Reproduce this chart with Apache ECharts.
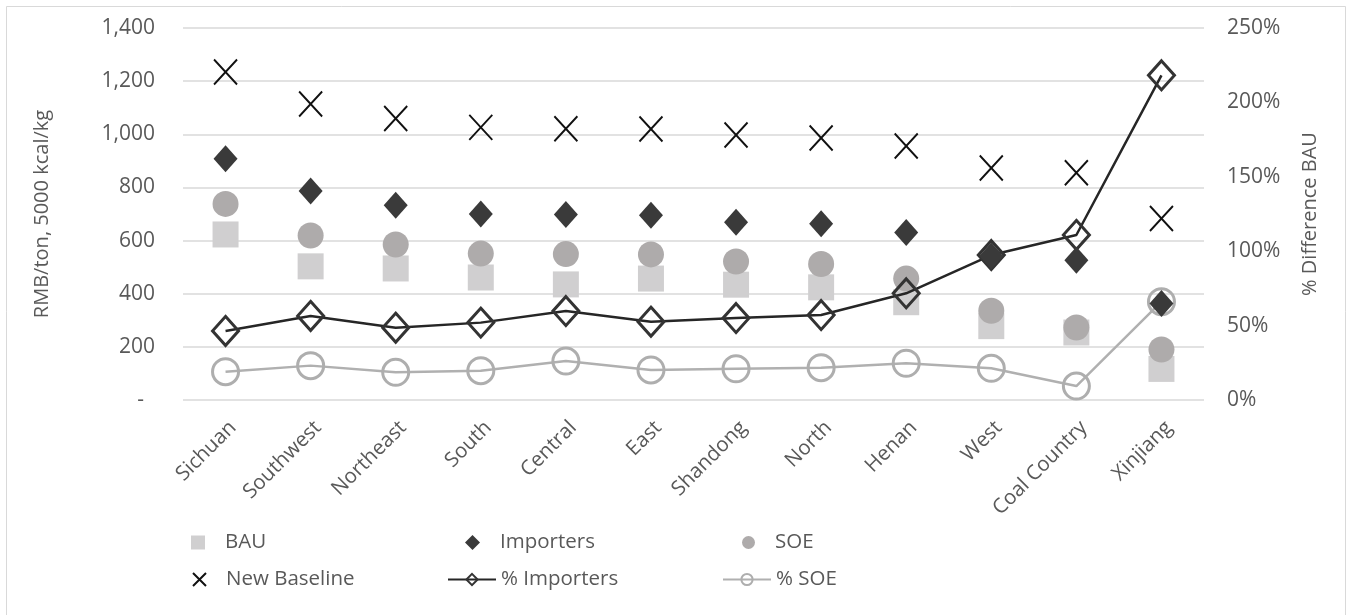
<!DOCTYPE html>
<html>
<head>
<meta charset="utf-8">
<script src="https://cdn.jsdelivr.net/npm/echarts@6/dist/echarts.min.js"></script>
<style>
html,body{margin:0;padding:0;background:#fff;}
#chart{width:1352px;height:615px;}
</style>
</head>
<body>
<div id="chart"></div>
<script>
const categories = ['Sichuan','Southwest','Northeast','South','Central','East','Shandong','North','Henan','West','Coal Country','Xinjiang'];
const bau = [623, 503, 495, 461, 435, 457, 434, 424, 368, 278, 254, 117];
const importers = [908, 787, 733, 700, 698, 695, 669, 663, 630, 542, 526, 363];
const soe = [738, 619, 585, 551, 549, 548, 521, 512, 457, 336, 273, 190];
const newBaseline = [1234, 1114, 1059, 1026, 1021, 1020, 997, 986, 956, 873, 855, 683];
const pctImporters = [46.4, 56.5, 48.6, 52.0, 59.8, 52.6, 55.1, 57.1, 71.7, 97.4, 110.9, 218.2];
const pctSoe = [19.0, 23.1, 18.6, 19.7, 26.2, 20.2, 21.0, 21.7, 24.7, 21.3, 9.4, 66.1];
const leftTicks = {min: 0, max: 1400, interval: 200};
const rightTicks = {min: 0, max: 250, interval: 50};

const FONT = "'Open Sans', sans-serif";
const TXT = '#595959';
const XPATH = 'path://M0,0L10,10M10,0L0,10';

function legendItem(name, icon, left, top, w, h, pad) {
  const d = {name: name};
  if (icon) d.icon = icon;
  return {
    data: [d], left: left, top: top, itemWidth: w, itemHeight: h,
    orient: 'horizontal', selectedMode: false,
    textStyle: {fontFamily: FONT, fontSize: 20.5, color: TXT, padding: [0, 0, 0, pad]}
  };
}

const chart = echarts.init(document.getElementById('chart'), null, {renderer: 'canvas'});
chart.setOption({
  animation: false,
  backgroundColor: '#fff',
  graphic: [{
    type: 'rect', shape: {x: 6.5, y: 6.5, width: 1339, height: 640},
    style: {fill: 'none', stroke: '#d9d9d9', lineWidth: 1}, silent: true
  }],
  grid: {left: 183, right: 148, top: 28, bottom: 215},
  legend: [
    legendItem('BAU', 'rect', 186, 527, 14, 14, 15),
    legendItem('Importers', 'diamond', 460, 527, 15, 15, 15),
    legendItem('SOE', 'circle', 737, 527, 13, 13, 15),
    legendItem('New Baseline', XPATH, 187, 564, 13, 13, 15),
    legendItem('% Importers', null, 442, 564, 48, 14, 0),
    legendItem('% SOE', null, 717, 564, 48, 14, 0)
  ],
  xAxis: {
    type: 'category', data: categories,
    axisLine: {show: false}, axisTick: {show: false},
    axisLabel: {rotate: 45, fontFamily: FONT, fontSize: 20.5, color: TXT, margin: 17,
      interval: 0, verticalAlign: 'top'}
  },
  yAxis: [{
    type: 'value', min: leftTicks.min, max: leftTicks.max, interval: leftTicks.interval,
    name: 'RMB/ton, 5000 kcal/kg', nameLocation: 'middle', nameGap: 131, nameRotate: 90,
    nameTextStyle: {fontFamily: FONT, fontSize: 20, color: TXT},
    axisLine: {show: false}, axisTick: {show: false},
    splitLine: {lineStyle: {color: '#d9d9d9', width: 1.5}},
    axisLabel: {
      fontFamily: FONT, fontSize: 21, color: TXT, margin: 28,
      formatter: v => v === 0 ? '{d|-}' : v.toLocaleString('en-US'),
      rich: {d: {fontFamily: FONT, fontSize: 21, color: TXT, padding: [0, 11, 0, 0]}}
    }
  }, {
    type: 'value', min: rightTicks.min, max: rightTicks.max, interval: rightTicks.interval,
    position: 'right',
    name: '% Difference BAU', nameLocation: 'middle', nameGap: 96, nameRotate: 90,
    nameTextStyle: {fontFamily: FONT, fontSize: 20, color: TXT},
    axisLine: {show: false}, axisTick: {show: false}, splitLine: {show: false},
    axisLabel: {fontFamily: FONT, fontSize: 21, color: TXT, margin: 23, formatter: v => v + '%'}
  }],
  series: [{
    name: 'BAU', type: 'scatter', data: bau, symbol: 'rect', symbolSize: 26,
    itemStyle: {color: '#d0cfd0', opacity: 1}, z: 2
  }, {
    name: 'Importers', type: 'scatter', data: importers, symbol: 'diamond', symbolSize: [24, 27],
    itemStyle: {color: '#3a3a3a', opacity: 1}, z: 5
  }, {
    name: 'SOE', type: 'scatter', data: soe, symbol: 'circle', symbolSize: 26,
    itemStyle: {color: '#aeabab', opacity: 1}, z: 2
  }, {
    name: 'New Baseline', type: 'scatter', data: newBaseline, symbol: XPATH, symbolSize: [23, 25],
    itemStyle: {color: 'rgba(0,0,0,0)', borderColor: '#111', borderWidth: 2, opacity: 1}, z: 3
  }, {
    name: '% Importers', type: 'line', yAxisIndex: 1, data: pctImporters,
    symbol: 'diamond', symbolSize: [26, 29], showAllSymbol: true,
    lineStyle: {color: '#262626', width: 2.5},
    itemStyle: {color: 'rgba(255,255,255,0)', borderColor: '#333', borderWidth: 3}, z: 4
  }, {
    name: '% SOE', type: 'line', yAxisIndex: 1, data: pctSoe,
    symbol: 'circle', symbolSize: 26, showAllSymbol: true,
    lineStyle: {color: '#b0b0b0', width: 2.5},
    itemStyle: {color: 'rgba(255,255,255,0)', borderColor: '#aeaeae', borderWidth: 3}, z: 4
  }]
});
</script>
</body>
</html>
